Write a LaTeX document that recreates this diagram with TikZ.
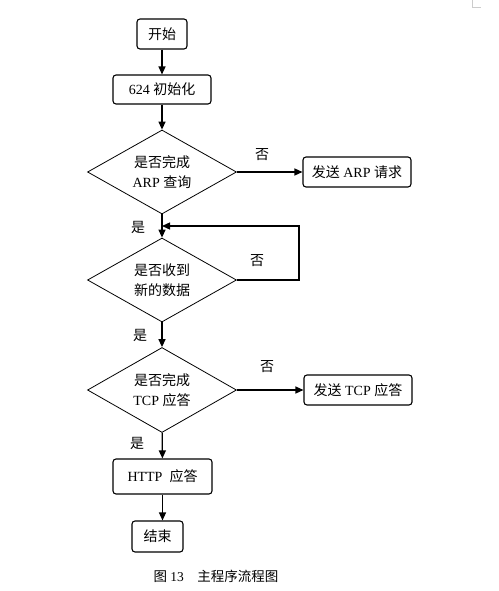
\documentclass[tikz,border=0pt]{standalone}
\usepackage{fontspec}
\setmainfont{Liberation Serif}
\newfontfamily\cjk{Noto Sans CJK SC}
\usetikzlibrary{shapes.geometric,arrows.meta}
\newcommand{\zh}[1]{{\cjk #1}}

\begin{document}
\begin{tikzpicture}[
    x=1pt, y=-1pt,
    box/.style={
        rectangle,
        rounded corners=3pt,
        draw,
        line width=1.1pt,
        inner sep=0pt,
        align=center,
        font=\fontsize{14}{20}\selectfont
    },
    test/.style={
        diamond,
        draw,
        line width=0.8pt,
        inner sep=0pt,
        aspect=1.77,
        minimum width=149pt,
        minimum height=84pt,
        align=center,
        font=\fontsize{14}{20}\selectfont
    },
    arrow/.style={-{Triangle[length=8pt,width=7pt]}, line width=1.3pt},
    label/.style={font=\fontsize{14}{16}\selectfont}
]
\useasboundingbox (0,0) rectangle (498,591);

% Nodes
\node[box, minimum width=50pt, minimum height=30pt] (start) at (162,34) {\zh{开始}};
\node[box, minimum width=98pt, minimum height=29pt] (init) at (162,89.5) {624 \zh{初始化}};
\node[test] (arpq) at (162,172) {\zh{是否完成}\\ARP \zh{查询}};
\node[box, minimum width=108pt, minimum height=30pt] (arpsend) at (357,172) {\zh{发送} ARP \zh{请求}};
\node[test] (recv) at (162,280) {\zh{是否收到}\\\zh{新的数据}};
\node[test, minimum height=85pt] (tcpq) at (162,390) {\zh{是否完成}\\TCP \zh{应答}};
\node[box, minimum width=108pt, minimum height=30pt] (tcpsend) at (358,390) {\zh{发送} TCP \zh{应答}};
\node[box, minimum width=99pt, minimum height=35pt] (http) at (162.5,476.5) {HTTP\ \ \zh{应答}};
\node[box, minimum width=51pt, minimum height=31pt] (stop) at (157.5,536.5) {\zh{结束}};
\coordinate (merge) at (162,226);
\coordinate (loopc) at (299,226);

% Main flow arrows
\draw[arrow] (start) -- (init);
\draw[arrow] (init) -- (arpq);
\draw[arrow] (arpq) -- (arpsend);
\draw[arrow] (arpq) -- (recv);
\draw[arrow] (recv) -- (tcpq);
\draw[arrow] (tcpq) -- (tcpsend);
\draw[arrow] (tcpq) -- (http);
\draw[arrow] (http.south) -- (http.south |- stop.north);

% Waiting loop
\draw[arrow] (recv.east) -| (loopc) -- (merge);

% Branch labels
\node[label] (y1) at (138,227) {\zh{是}};
\node[label] (y2) at (140,335) {\zh{是}};
\node[label] (y3) at (137,443) {\zh{是}};
\node[label] (n1) at (262,155) {\zh{否}};
\node[label] (n2) at (257,261) {\zh{否}};
\node[label] (n3) at (267,367) {\zh{否}};

% Caption
\node[font=\fontsize{13.5}{16}\selectfont] (caption) at (216,576) {\zh{图} 13\quad\zh{主程序流程图}};

% Page corner mark
\draw[gray!40, line width=0.6pt] (472,0) -- (472,7) -- (481,7);

\end{tikzpicture}
\end{document}
